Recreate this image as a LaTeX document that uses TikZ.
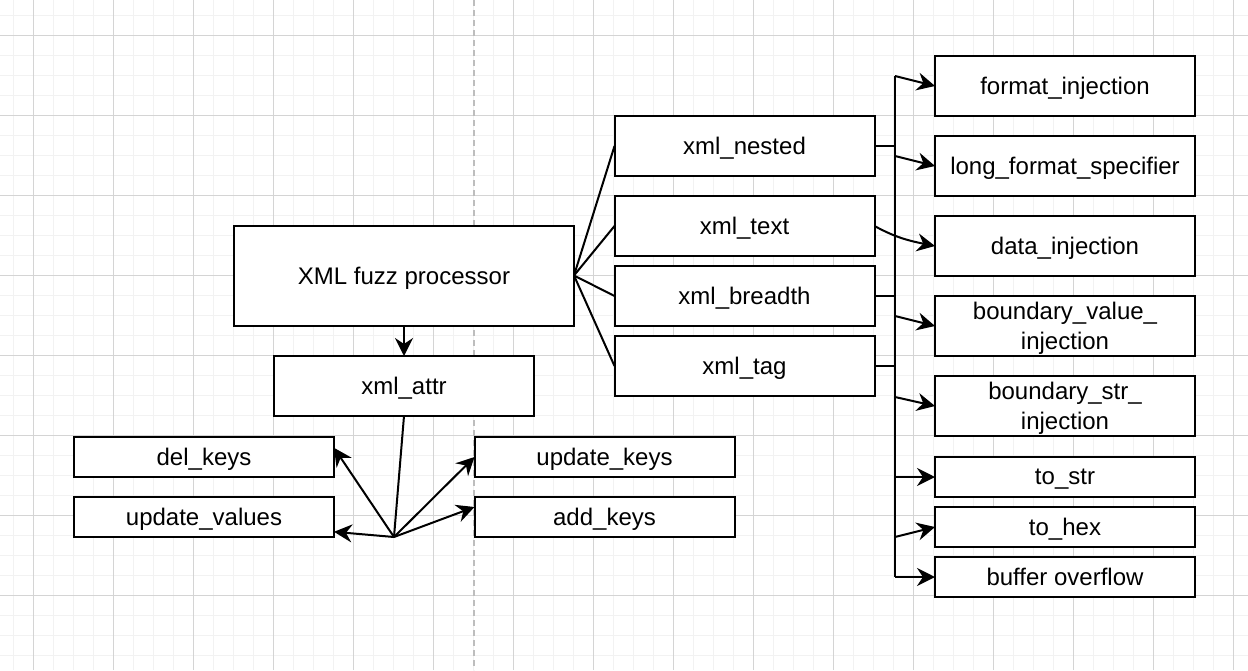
\documentclass[tikz,border=0pt]{standalone}
\usepackage{fontspec}
\setmainfont{Liberation Sans}
\usetikzlibrary{arrows.meta,calc}
\definecolor{minorgrid}{HTML}{F2F2F2}
\definecolor{majorgrid}{HTML}{D4D4D4}
\definecolor{midline}{HTML}{BDBDBD}

\begin{document}
\begin{tikzpicture}[x=0.5pt,y=-0.5pt,
  box/.style={draw,line width=1pt,fill=white,inner sep=0pt,outer sep=0pt,
    minimum width=130pt,minimum height=30pt,align=center,text depth=0pt,
    font=\fontsize{12}{15}\selectfont},
  thin/.style={box,minimum height=20pt},
  link/.style={line width=1pt},
  arr/.style={link,-{Stealth[length=9pt,width=9pt,inset=3pt]}}]
  \useasboundingbox(0,0)rectangle(1248,670);
  \fill[white](0,0)rectangle(1248,670);
  \foreach\x in{13,33,...,1248}\draw[minorgrid,line width=0.5pt](\x,0)--(\x,670);
  \foreach\y in{15,35,...,670}\draw[minorgrid,line width=0.5pt](0,\y)--(1248,\y);
  \foreach\x in{33,113,...,1248}\draw[majorgrid,line width=0.5pt](\x,0)--(\x,670);
  \foreach\y in{35,115,...,670}\draw[majorgrid,line width=0.5pt](0,\y)--(1248,\y);
  \draw[midline,line width=1pt,dash pattern=on 3pt off 2pt](474,0)--(474,670);

  \node[box,minimum width=170pt,minimum height=50pt](proc)at(404,275.5){XML fuzz processor};
  \node[box](attr)at(404,386){xml\_attr};
  \node[thin](del)at(204,457){del\_keys};
  \node[thin](vals)at(204,517){update\_values};
  \node[thin](ukeys)at(604.5,457){update\_keys};
  \node[thin](akeys)at(604.5,517){add\_keys};

  \node[box](nested)at(744.5,146){xml\_nested};
  \node[box](txt)at(744.5,226){xml\_text};
  \node[box](breadth)at(744.5,296){xml\_breadth};
  \node[box](tag)at(744.5,366){xml\_tag};

  \node[box](fmt)at(1065,86){format\_injection};
  \node[box](lfs)at(1065,166){long\_format\_specifier};
  \node[box](dinj)at(1065,246){data\_injection};
  \node[box](bval)at(1065,326){boundary\_value\_\\injection};
  \node[box](bstr)at(1065,406){boundary\_str\_\\injection};
  \node[thin](tostr)at(1065,477){to\_str};
  \node[thin](tohex)at(1065,527){to\_hex};
  \node[thin](buf)at(1065,577){buffer overflow};

  \foreach\n in{nested,txt,breadth,tag}\draw[link](proc.east)--(\n.west);
  \draw[arr](proc.south)--(attr.north);
  \coordinate(hub)at(394,537);
  \draw[link](attr.south)--(hub);
  \draw[arr](hub)--($(del.north east)!0.27!(del.south east)$);
  \draw[arr](hub)--($(vals.north east)!0.87!(vals.south east)$);
  \draw[arr](hub)--(ukeys.west);
  \draw[arr](hub)--($(akeys.north west)!0.25!(akeys.south west)$);

  \coordinate(top)at(895,76);
  \coordinate(bot)at(895,577);
  \draw[link](top)--(bot);
  \draw[link](nested.east)--(nested.east-|top);
  \draw[link](breadth.east)--(breadth.east-|top);
  \draw[link](tag.east)--(tag.east-|top);
  \foreach\y/\n in{76/fmt,156/lfs,316/bval,397/bstr,477/tostr,537/tohex,577/buf}{
    \coordinate(b\n)at(895,\y);
    \draw[arr](b\n)--(\n.west);}
  \draw[arr](txt.east)..controls(893,236)and(905,240)..(dinj.west);
\end{tikzpicture}
\end{document}
